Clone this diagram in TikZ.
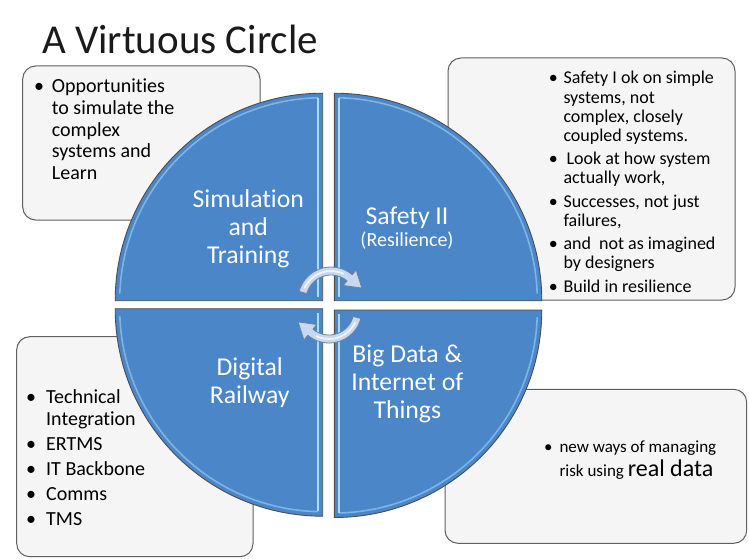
\documentclass[tikz,border=0pt]{standalone}
\usepackage{fontspec}
\setmainfont{Carlito}[Ligatures=NoCommon]
\usetikzlibrary{calc}

\definecolor{quadblue}{HTML}{4A86C8}
\definecolor{quadedge}{HTML}{4D4D4D}
\definecolor{quadglow}{HTML}{A8DAFB}
\definecolor{boxfill}{HTML}{F5F5F5}
\definecolor{boxedge}{HTML}{5F5F5F}
\definecolor{turnfill}{HTML}{C8D8EE}
\definecolor{turnedge}{HTML}{6F819C}
\definecolor{titleink}{HTML}{1A1A1A}

\newcommand\SizeTitle{\fontsize{41}{49}\selectfont}
\newcommand\SizeBig{\fontsize{20}{24}\selectfont}
\newcommand\SizeMid{\fontsize{18}{22}\selectfont}
\newcommand\SizeSmall{\fontsize{17}{21}\selectfont}
\newcommand\SizeQuad{\fontsize{25.7}{28}\selectfont}
\newcommand\SizeParen{\fontsize{20}{24}\selectfont}

\tikzset{
  infobox/.style={draw=boxedge, fill=boxfill, line width=1pt, rounded corners=13pt},
  quadrant/.style={fill=quadblue, draw=quadedge, line width=0.9pt},
  glowline/.style={draw=quadglow, line width=1.6pt},
  glowarc/.style={draw=quadglow, line width=1.6pt, opacity=0.55},
  quadtext/.style={anchor=base, inner sep=0pt, text=white, font=\SizeQuad},
  bodytext/.style={anchor=base west, inner sep=0pt, text=black},
  bulletmark/.style={anchor=base, inner sep=0pt, text=black},
  turnarrow/.style={fill=turnfill, draw=turnedge, line width=0.8pt, line join=round},
  turnshine/.style={draw=white, line width=1.8pt, opacity=0.7, line cap=round},
}

\begin{document}
\begin{tikzpicture}[x=1pt, y=-1pt]
\useasboundingbox[fill=white] (0,0) rectangle (749,559);

% title
\node[anchor=base west, inner sep=0pt, text=titleink, font=\SizeTitle] (title) at (42,53.3) {A Virtuous Circle};

% information boxes (behind the circle)
\draw[infobox] (22.7,66) rectangle (260,220);
\draw[infobox] (448,58) rectangle (735,300);
\draw[infobox] (16.7,336.7) rectangle (253,556.7);
\draw[infobox] (445,389.3) rectangle (746.7,543.3);

% the four quadrants
\coordinate (k1) at (322.7,300.7);
\coordinate (k2) at (334.3,300.7);
\coordinate (k3) at (322.7,308.7);
\coordinate (k4) at (334.3,310);

\draw[quadrant] (k1) -- ($(k1)+(-207.5,0)$) arc[start angle=180, end angle=270, radius=207.5] -- cycle;
\draw[quadrant] (k2) -- ($(k2)+(0,-207.5)$) arc[start angle=270, end angle=360, radius=207.5] -- cycle;
\draw[quadrant] (k3) -- ($(k3)+(-207.5,0)$) arc[start angle=180, end angle=90, radius=207.5] -- cycle;
\draw[quadrant] (k4) -- ($(k4)+(207.5,0)$) arc[start angle=0, end angle=90, radius=207.5] -- cycle;

% bevel highlights
\draw[glowline] ($(k1)+(-4.5,-4)$) -- ($(k1)+(-4.5,-202.5)$);
\draw[glowline] ($(k2)+(4.5,-4)$) -- ($(k2)+(4.5,-202.5)$);
\draw[glowline] ($(k3)+(-4.5,4)$) -- ($(k3)+(-4.5,202.5)$);
\draw[glowline] ($(k4)+(4.5,4)$) -- ($(k4)+(4.5,202.5)$);
\draw[glowarc] ($(k1)+(182:203)$) arc[start angle=182, end angle=268.7, radius=203];
\draw[glowarc] ($(k2)+(271.3:203)$) arc[start angle=271.3, end angle=358, radius=203];
\draw[glowarc] ($(k3)+(178:203)$) arc[start angle=178, end angle=91.3, radius=203];
\draw[glowarc] ($(k4)+(2:203)$) arc[start angle=2, end angle=88.7, radius=203];

% circular arrows at the centre
\coordinate (tc) at (331,300);
\coordinate (bc) at (329,310);
\path[turnarrow] ($(tc)+(195:33)$) arc[start angle=195, end angle=310, radius=33]
  -- ($(tc)+(310:39)$) -- ($(tc)+(310:29)+(40:16)$) -- ($(tc)+(310:19)$)
  -- ($(tc)+(310:25)$) arc[start angle=310, end angle=195, radius=25] -- cycle;
\draw[turnshine] ($(tc)+(205:29)$) arc[start angle=205, end angle=295, radius=29];
\path[turnarrow] ($(bc)+(15:33)$) arc[start angle=15, end angle=130, radius=33]
  -- ($(bc)+(130:39)$) -- ($(bc)+(130:29)+(220:16)$) -- ($(bc)+(130:19)$)
  -- ($(bc)+(130:25)$) arc[start angle=130, end angle=15, radius=25] -- cycle;
\draw[turnshine] ($(bc)+(25:29)$) arc[start angle=25, end angle=115, radius=29];

% quadrant labels
\foreach \yy/\ltext [count=\i] in {207.3/Simulation, 235.3/and, 263.3/Training}
  \node[quadtext] (simq\i) at (248.3,\yy) {\ltext};
\node[quadtext] (safq1) at (407,224) {Safety II};
\node[quadtext, font=\SizeParen] (safq2) at (407,246.7) {(Resilience)};
\foreach \yy/\ltext [count=\i] in {375/Digital, 403/Railway}
  \node[quadtext] (digq\i) at (249.7,\yy) {\ltext};
\foreach \yy/\ltext [count=\i] in {362.7/Big Data \&, 390.7/Internet of, 418.7/Things}
  \node[quadtext] (bigq\i) at (407.3,\yy) {\ltext};

% box texts: simulation
\node[bulletmark, font=\SizeBig] (simb1) at (39,92.7) {\textbullet};
\foreach \yy/\ltext [count=\i] in {92.7/Opportunities, 114.3/to simulate the, 136/complex, 157.7/systems and, 179.3/Learn}
  \node[bodytext, font=\SizeBig] (simt\i) at (51.7,\yy) {\ltext};

% box texts: safety
\foreach \yy [count=\i] in {84,164.5,207,249.5,292}
  \node[bulletmark, font=\SizeMid] (safb\i) at (553.3,\yy) {\textbullet};
\foreach \yy/\ltext [count=\i] in {84/Safety I ok on simple, 103/{systems, not}, 122/{complex, closely}, 141/coupled systems., 164.5/\hspace{3pt}Look at how system, 183.5/{actually work,}, 207/{Successes, not just}, 226/{failures,}, 249.5/and\hspace{4pt} not as imagined, 268.5/by designers, 292/Build in resilience}
  \node[bodytext, font=\SizeMid] (saft\i) at (563.3,\yy) {\ltext};

% box texts: digital railway
\foreach \yy [count=\i] in {403.3,450,475,500,525}
  \node[bulletmark, font=\SizeBig] (digb\i) at (31,\yy) {\textbullet};
\foreach \yy/\ltext [count=\i] in {403.3/Technical, 425/Integration, 450/ERTMS, 475/IT Backbone, 500/Comms, 525/TMS}
  \node[bodytext, font=\SizeBig] (digt\i) at (46,\yy) {\ltext};

% box texts: big data
\node[bulletmark, font=\SizeSmall] (bigb1) at (548.3,452.7) {\textbullet};
\node[bodytext, font=\SizeSmall] (bigt1) at (559.3,452.7) {new ways of managing};
\node[bodytext, font=\SizeSmall] (bigt2) at (559.3,476.7) {risk using {\fontsize{24}{28}\selectfont real data}};
\end{tikzpicture}
\end{document}
